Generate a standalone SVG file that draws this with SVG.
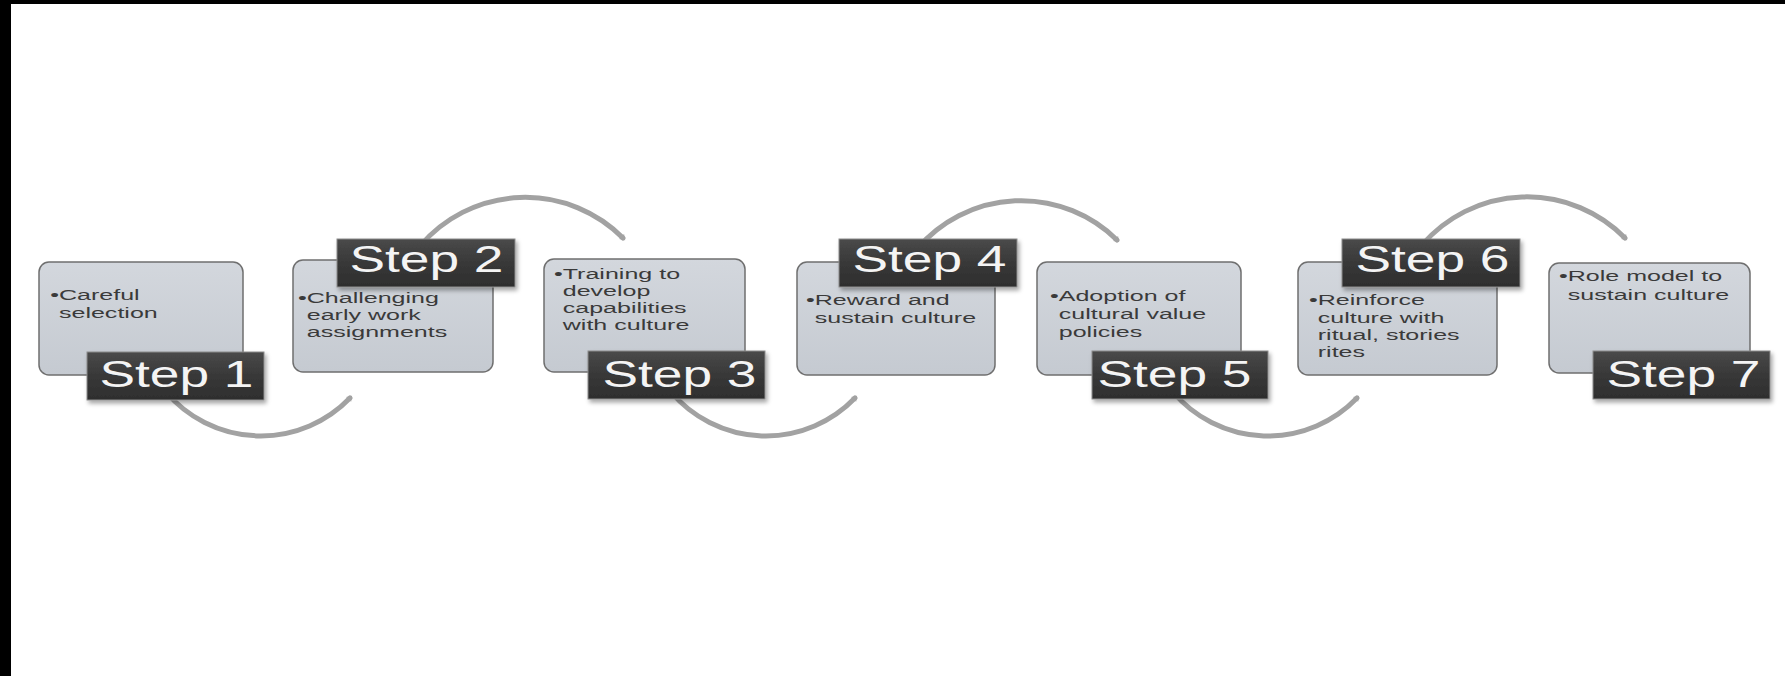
<svg xmlns="http://www.w3.org/2000/svg" width="1785" height="676" viewBox="0 0 1785 676">
<defs>
<linearGradient id="boxg" x1="0" y1="0" x2="0" y2="1">
<stop offset="0" stop-color="#d3d7dd"/>
<stop offset="1" stop-color="#c5cad1"/>
</linearGradient>
<linearGradient id="labg" x1="0" y1="0" x2="0" y2="1">
<stop offset="0" stop-color="#4a4a4a"/>
<stop offset="0.5" stop-color="#383838"/>
<stop offset="1" stop-color="#2e2e2e"/>
</linearGradient>
<filter id="sh" x="-10%" y="-20%" width="125%" height="150%">
<feDropShadow dx="2" dy="3" stdDeviation="2" flood-color="#000" flood-opacity="0.35"/>
</filter>
<marker id="ah" markerUnits="userSpaceOnUse" markerWidth="10" markerHeight="10" refX="2" refY="0" viewBox="-2 -5 10 10" orient="auto">
<path d="M0,-3.5 L5,0 L0,3.5 z" fill="#a2a2a2"/>
</marker>
</defs>
<style>
.box{fill:url(#boxg);stroke:#6f6f6f;stroke-width:1.5}
.lab{fill:url(#labg);stroke:#8c8c8c;stroke-width:1;filter:url(#sh)}
.lt{font-family:"Liberation Sans",Arial,sans-serif;font-size:37px;fill:#f4f4f4}
.bt{font-family:"Liberation Sans",Arial,sans-serif;font-size:15px;fill:#3a3a3a}
.arc{fill:none;stroke:#a2a2a2;stroke-width:5;stroke-linecap:round;marker-end:url(#ah)}
</style>
<rect x="0" y="0" width="1785" height="676" fill="#ffffff"/>
<rect x="0" y="0" width="1785" height="4" fill="#000000"/>
<rect x="0" y="0" width="11" height="676" fill="#000000"/>

<g id="connectors">
<path class="arc" d="M166 392 A124 124 0 0 0 350 398"/>
<path class="arc" d="M420 246 A138 138 0 0 1 623 238"/>
<path class="arc" d="M671 392 A124 124 0 0 0 855 398"/>
<path class="arc" d="M917 249 A136.5 136.5 0 0 1 1117 240"/>
<path class="arc" d="M1173 392 A124 124 0 0 0 1357 398"/>
<path class="arc" d="M1422 245 A138 138 0 0 1 1625 238"/>
</g>

<g id="step1">
<rect class="box" x="39" y="262" width="204" height="113" rx="10"/>
<g transform="translate(50.2,0) scale(1.67,1)">
<text class="bt" x="0" y="300">•Careful</text>
<text class="bt" x="5.25" y="318">selection</text>
</g>
<rect class="lab" x="87" y="352" width="177" height="48"/>
<text class="lt" x="99.5" y="387" textLength="154" lengthAdjust="spacingAndGlyphs">Step 1</text>
</g>

<g id="step2">
<rect class="box" x="293" y="260" width="200" height="112" rx="10"/>
<g transform="translate(298,0) scale(1.67,1)">
<text class="bt" x="0" y="303">•Challenging</text>
<text class="bt" x="5.25" y="320">early work</text>
<text class="bt" x="5.25" y="337">assignments</text>
</g>
<rect class="lab" x="337" y="239" width="178" height="48"/>
<text class="lt" x="349.5" y="272" textLength="154" lengthAdjust="spacingAndGlyphs">Step 2</text>
</g>

<g id="step3">
<rect class="box" x="544" y="259" width="201" height="113" rx="10"/>
<g transform="translate(554,0) scale(1.67,1)">
<text class="bt" x="0" y="279">•Training to</text>
<text class="bt" x="5.25" y="296">develop</text>
<text class="bt" x="5.25" y="313">capabilities</text>
<text class="bt" x="5.25" y="330">with culture</text>
</g>
<rect class="lab" x="588" y="351" width="177" height="48"/>
<text class="lt" x="602.5" y="387" textLength="154" lengthAdjust="spacingAndGlyphs">Step 3</text>
</g>

<g id="step4">
<rect class="box" x="797" y="262" width="198" height="113" rx="10"/>
<g transform="translate(806,0) scale(1.67,1)">
<text class="bt" x="0" y="305">•Reward and</text>
<text class="bt" x="5.25" y="323">sustain culture</text>
</g>
<rect class="lab" x="839" y="239" width="178" height="48"/>
<text class="lt" x="852.5" y="272" textLength="154" lengthAdjust="spacingAndGlyphs">Step 4</text>
</g>

<g id="step5">
<rect class="box" x="1037" y="262" width="204" height="113" rx="10"/>
<g transform="translate(1050,0) scale(1.67,1)">
<text class="bt" x="0" y="301">•Adoption of</text>
<text class="bt" x="5.25" y="319">cultural value</text>
<text class="bt" x="5.25" y="337">policies</text>
</g>
<rect class="lab" x="1092" y="351" width="176" height="48"/>
<text class="lt" x="1097.5" y="387" textLength="154" lengthAdjust="spacingAndGlyphs">Step 5</text>
</g>

<g id="step6">
<rect class="box" x="1298" y="262" width="199" height="113" rx="10"/>
<g transform="translate(1309,0) scale(1.67,1)">
<text class="bt" x="0" y="305">•Reinforce</text>
<text class="bt" x="5.25" y="323">culture with</text>
<text class="bt" x="5.25" y="340">ritual, stories</text>
<text class="bt" x="5.25" y="357">rites</text>
</g>
<rect class="lab" x="1342" y="239" width="178" height="48"/>
<text class="lt" x="1355.5" y="272" textLength="154" lengthAdjust="spacingAndGlyphs">Step 6</text>
</g>

<g id="step7">
<rect class="box" x="1549" y="263" width="201" height="110" rx="10"/>
<g transform="translate(1559,0) scale(1.67,1)">
<text class="bt" x="0" y="281">•Role model to</text>
<text class="bt" x="5.25" y="300">sustain culture</text>
</g>
<rect class="lab" x="1593" y="351" width="177" height="48"/>
<text class="lt" x="1606.5" y="387" textLength="154" lengthAdjust="spacingAndGlyphs">Step 7</text>
</g>
</svg>
